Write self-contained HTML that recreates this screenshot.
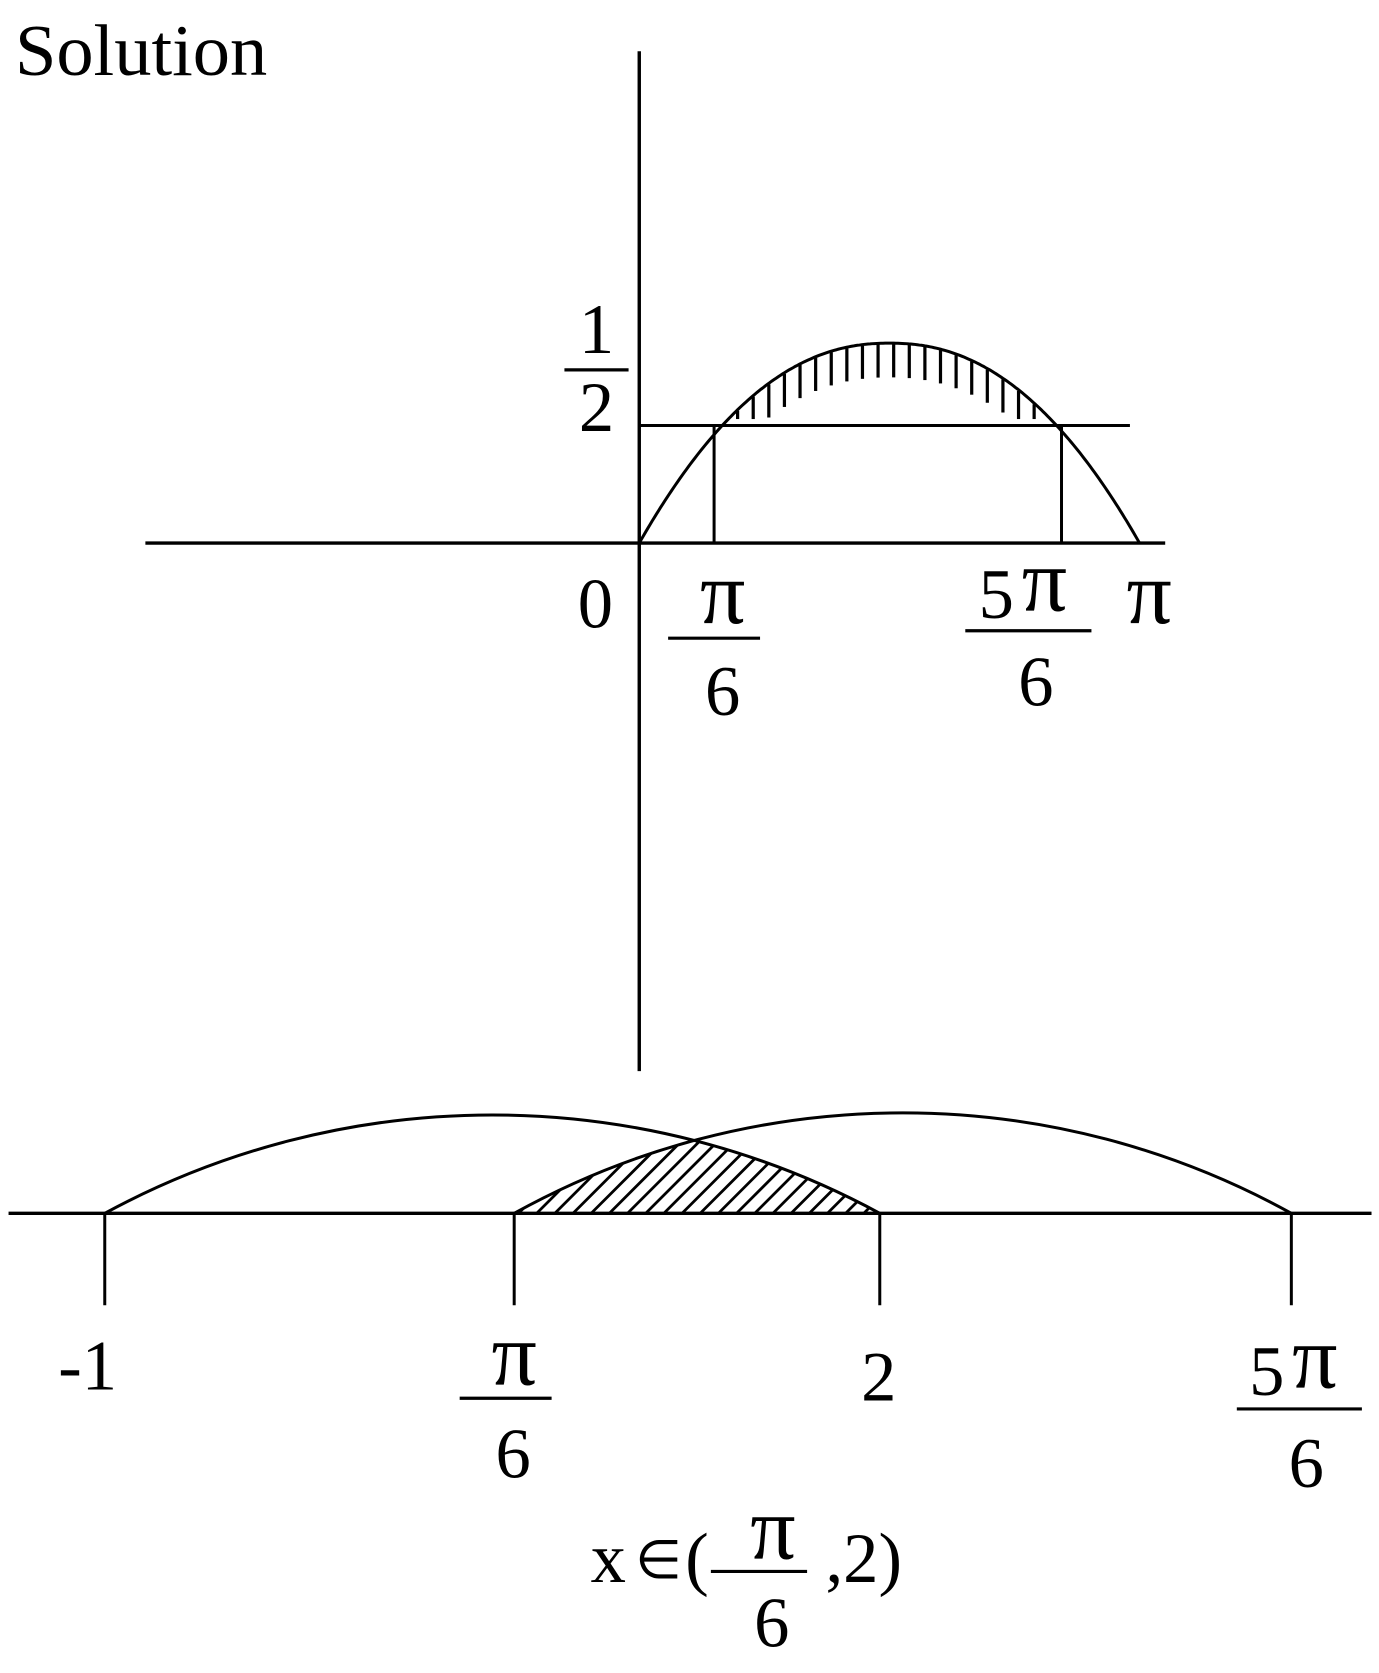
<!DOCTYPE html>
<html><head><meta charset="utf-8"><style>
html,body{margin:0;padding:0;background:#fff;}
svg{display:block;}
text{font-family:"Liberation Serif",serif;fill:#000;}
</style></head><body>
<svg id="s" width="1379" height="1673" viewBox="0 0 1290 1565" preserveAspectRatio="none" xmlns="http://www.w3.org/2000/svg">
<defs>
<clipPath id="lensA"><path d="M98 1135 A760 760 0 0 1 823 1135 Z"/></clipPath>
<clipPath id="lensB"><path d="M481 1135 A750 750 0 0 1 1208 1135 Z"/></clipPath>
</defs>
<text x="14" y="70" font-size="68" textLength="236" lengthAdjust="spacingAndGlyphs">Solution</text>

<g stroke="#000" fill="none">
<line x1="598" y1="48" x2="598" y2="1002" stroke-width="3.2"/>
<line x1="136" y1="508" x2="1090" y2="508" stroke-width="3.2"/>
<line x1="598" y1="398" x2="1057" y2="398" stroke-width="2.8"/>
<line x1="668" y1="398" x2="668" y2="508" stroke-width="2.8"/>
<line x1="993" y1="398" x2="993" y2="508" stroke-width="2.8"/>
<path id="curve" stroke-width="2.8" d=""/>
<g id="vh" stroke-width="3"></g>

<line x1="8" y1="1135" x2="1283" y2="1135" stroke-width="3.2"/>
<line x1="98" y1="1135" x2="98" y2="1221" stroke-width="2.8"/>
<line x1="481" y1="1135" x2="481" y2="1221" stroke-width="2.8"/>
<line x1="823" y1="1135" x2="823" y2="1221" stroke-width="2.8"/>
<line x1="1208" y1="1135" x2="1208" y2="1221" stroke-width="2.8"/>
<path d="M98 1135 A760 760 0 0 1 823 1135" stroke-width="2.8"/>
<path d="M481 1135 A750 750 0 0 1 1208 1135" stroke-width="2.8"/>
<g clip-path="url(#lensA)"><g clip-path="url(#lensB)"><g id="dh" stroke-width="2.6"></g></g></g>

<line x1="528" y1="346" x2="588" y2="346" stroke-width="3"/>
<line x1="625" y1="597" x2="711" y2="597" stroke-width="3"/>
<line x1="903" y1="590" x2="1021" y2="590" stroke-width="3"/>
<line x1="430" y1="1308" x2="516" y2="1308" stroke-width="3"/>
<line x1="1157" y1="1318" x2="1274" y2="1318" stroke-width="3"/>
<line x1="665" y1="1470" x2="755" y2="1470" stroke-width="3"/>
</g>

<g font-size="66" text-anchor="middle">
<text x="558" y="330">1</text>
<text x="558" y="403">2</text>
<text x="557" y="587">0</text>
<text x="676" y="583" font-size="84">π</text>
<text x="676" y="669">6</text>
<text x="932" y="578">5</text>
<text x="977" y="571" font-size="84">π</text>
<text x="969" y="660">6</text>
<text x="1075" y="583" font-size="84">π</text>

<text x="82" y="1300">-1</text>
<text x="481" y="1295" font-size="84">π</text>
<text x="480" y="1382">6</text>
<text x="822" y="1310">2</text>
<text x="1185" y="1305">5</text>
<text x="1230" y="1298" font-size="84">π</text>
<text x="1222" y="1391">6</text>

<text x="569" y="1480">x</text>
<text x="616" y="1476" font-size="50">∈</text>
<text x="652" y="1480">(</text>
<text x="723" y="1458" font-size="84">π</text>
<text x="808" y="1480">,2)</text>
<text x="722" y="1540">6</text>
</g>
</svg>
<script>
(function(){
var NS="http://www.w3.org/2000/svg";
function f(x){var u=Math.abs((x-832)/234);if(u>1)u=1;return 508-187*(1-Math.pow(u,2.2));}
var d="M598 508";
for(var x=598;x<=1066;x+=2){d+=" L"+x+" "+f(Math.min(x,1066)).toFixed(1);}
document.getElementById("curve").setAttribute("d",d);
var g=document.getElementById("vh");
for(var x=690;x<=982;x+=14.6){
 var y1=f(x),y2=Math.min(y1+32,392);
 if(y2-y1<4)continue;
 var l=document.createElementNS(NS,"line");
 l.setAttribute("x1",x);l.setAttribute("x2",x);l.setAttribute("y1",y1+1);l.setAttribute("y2",y2);
 g.appendChild(l);
}
var h=document.getElementById("dh");
for(var x=400;x<=900;x+=17){
 var l=document.createElementNS(NS,"line");
 l.setAttribute("x1",x);l.setAttribute("y1",1135);l.setAttribute("x2",x+110);l.setAttribute("y2",1025);
 h.appendChild(l);
}
})();
</script>
</body></html>
